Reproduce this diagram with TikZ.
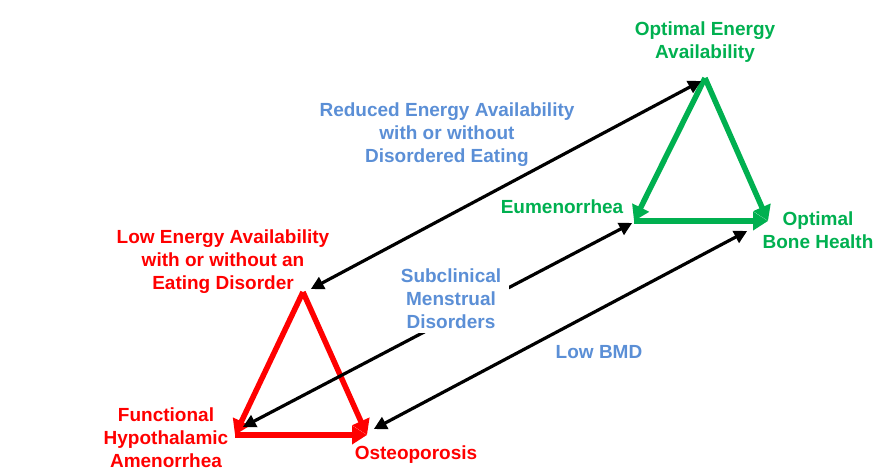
\documentclass[tikz,border=0pt]{standalone}
\usepackage{fontspec}
\setmainfont{Liberation Sans}
\usetikzlibrary{arrows.meta}
\definecolor{cred}{HTML}{FF0000}
\definecolor{cgreen}{HTML}{00B050}
\definecolor{cblue}{HTML}{5B8FD6}
\begin{document}
\begin{tikzpicture}[x=1pt,y=-1pt,
  lbl/.style={font=\fontsize{19}{23}\selectfont\bfseries, align=center, inner sep=1pt},
  tri/.style={line width=5.5pt, -{Triangle[length=15pt,width=18pt]}},
  blk/.style={line width=3.2pt, black, {Triangle[length=13pt,width=13pt]}-{Triangle[length=13pt,width=13pt]}, shorten <=2pt, shorten >=2pt}]
\useasboundingbox (0,0) rectangle (893,475);
% vertices
\coordinate (gT) at (705,78);
\coordinate (gL) at (634,221);
\coordinate (gR) at (768,221);
\coordinate (rT) at (303,292);
\coordinate (rL) at (235,435);
\coordinate (rR) at (367,435);
% triangles
\draw[tri, cgreen] (gT) -- (gL);
\draw[tri, cgreen] (gT) -- (gR);
\draw[tri, cgreen] (gL) -- (gR);
\draw[tri, cred] (rT) -- (rL);
\draw[tri, cred] (rT) -- (rR);
\draw[tri, cred] (rL) -- (rR);
% black arrows
\coordinate (a1) at (703,80);
\coordinate (b1) at (309,290);
\coordinate (a2) at (634,222);
\coordinate (b2) at (241,428);
\coordinate (a3) at (749,230);
\coordinate (b3) at (372,430);
\draw[blk] (a1) -- (b1);
\draw[blk] (a2) -- (b2);
\draw[blk] (a3) -- (b3);
% labels
\node[lbl, text=cgreen] (oea) at (705,42) {Optimal Energy\\Availability};
\node[lbl, text=cgreen] (eum) at (562,207) {Eumenorrhea};
\node[lbl, text=cgreen] (obh) at (818,230) {Optimal\\Bone Health};
\node[lbl, text=cblue] (red) at (447,135) {Reduced Energy Availability\\with or without\\Disordered Eating};
\node[lbl, text=cred] (lea) at (223,262) {Low Energy Availability\\with or without an\\Eating Disorder};
\node[lbl, text=cblue, fill=white, inner xsep=8pt, inner ysep=4pt] (smd) at (451,299) {Subclinical\\Menstrual\\Disorders};
\node[lbl, text=cblue] (bmd) at (599,352) {Low BMD};
\node[lbl, text=cred] (fha) at (166,438) {Functional\\Hypothalamic\\Amenorrhea};
\node[lbl, text=cred] (ost) at (416,455) {Osteoporosis};
\end{tikzpicture}
\end{document}
